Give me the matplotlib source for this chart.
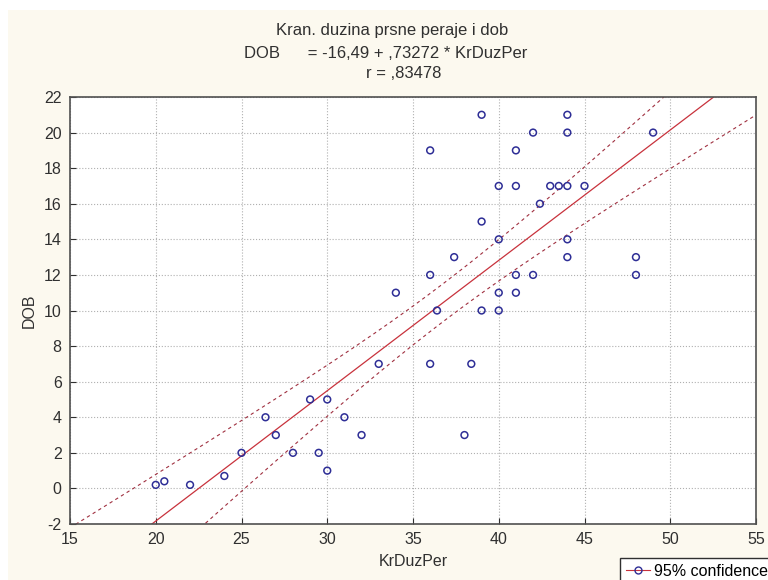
import numpy as np
import matplotlib
matplotlib.use("Agg")
import matplotlib.pyplot as plt
from matplotlib.lines import Line2D
from matplotlib.patches import Rectangle

plt.rcParams['font.family'] = ['Liberation Sans', 'DejaVu Sans']
plt.rcParams['axes.unicode_minus'] = False

# data
kr_duz_per = [20, 20.5, 22, 24, 25, 26.4, 27, 28, 29, 29.5, 30, 30, 31, 32,
              33, 34, 36, 36, 36, 36.4, 37.4, 38, 38.4, 39, 39, 39,
              40, 40, 40, 40, 41, 41, 41, 41, 42, 42, 42.4, 43, 43.5,
              44, 44, 44, 44, 44, 45, 48, 48, 49]
dob = [0.2, 0.4, 0.2, 0.7, 2, 4, 3, 2, 5, 2, 5, 1, 4, 3,
       7, 11, 19, 12, 7, 10, 13, 3, 7, 21, 15, 10,
       17, 14, 11, 10, 19, 17, 12, 11, 20, 12, 16, 17, 17,
       21, 20, 17, 14, 13, 17, 13, 12, 20]
intercept = -16.49
slope = 0.73272
x_ticks = [15, 20, 25, 30, 35, 40, 45, 50, 55]
y_ticks = [-2, 0, 2, 4, 6, 8, 10, 12, 14, 16, 18, 20, 22]

x = np.array(kr_duz_per)
y = np.array(dob)
n = len(x)
resid = y - (intercept + slope * x)
s = np.sqrt(np.sum(resid ** 2) / (n - 2))
sxx = np.sum((x - x.mean()) ** 2)
t = 2.013

xs = np.linspace(15, 55, 200)
fit = intercept + slope * xs
half = t * s * np.sqrt(1.0 / n + (xs - x.mean()) ** 2 / sxx)

fig = plt.figure(figsize=(7.68, 5.8), dpi=100, facecolor='white')
fig.patches.append(Rectangle((8 / 768, 0), 1, 1 - 10 / 580, transform=fig.transFigure,
                             facecolor='#fcf9ef', edgecolor='none', zorder=-10))
ax = fig.add_axes([70 / 768, 1 - 524 / 580, (756 - 70) / 768, (524 - 97) / 580])
ax.set_facecolor('white')

ax.plot(xs, fit, color='#c8323c', lw=0.9)
ax.plot(xs, fit + half, color='#a03040', lw=0.8, ls=(0, (3, 3)))
ax.plot(xs, fit - half, color='#a03040', lw=0.8, ls=(0, (3, 3)))
ax.scatter(x, y, s=24, facecolors='none', edgecolors='#2e2e96', linewidths=1.1, zorder=3)

ax.set_xlim(15, 55)
ax.set_ylim(-2, 22)
ax.set_xticks(x_ticks)
ax.set_yticks(y_ticks)
ax.grid(True, color='#b0b0b0', ls=':', lw=0.8)
ax.tick_params(direction='in', length=4, labelsize=11.5, colors='#303030', pad=6)
for sp in ax.spines.values():
    sp.set_color('#505050')
    sp.set_linewidth(1.2)

ax.set_xlabel('KrDuzPer', fontsize=11.5, color='#303030', labelpad=5)
ax.set_ylabel('DOB', fontsize=11.5, color='#303030', labelpad=5)

fig.text(392 / 768, 1 - 31 / 580, 'Kran. duzina prsne peraje i dob', ha='center', va='center',
         fontsize=12, color='#303030')
fig.text(386 / 768, 1 - 53 / 580, 'DOB      = -16,49 + ,73272 * KrDuzPer', ha='center',
         va='center', fontsize=12, color='#303030')
fig.text(404 / 768, 1 - 74 / 580, 'r = ,83478', ha='center', va='center',
         fontsize=12, color='#303030')

handle = Line2D([0], [1], color='#c8323c', lw=0.8, marker='o', mfc='none',
                mec='#2e2e96', ms=5)
fig.legend([handle], ['95% confidence'], loc='upper left',
           bbox_to_anchor=(620 / 768, 1 - 558 / 580), fontsize=11.5,
           frameon=True, fancybox=False, edgecolor='#303030', facecolor='white',
           framealpha=1, borderpad=0.35, handlelength=1.5, handletextpad=0.3,
           borderaxespad=0)

fig.savefig('out.png', dpi=100, facecolor=fig.get_facecolor())
